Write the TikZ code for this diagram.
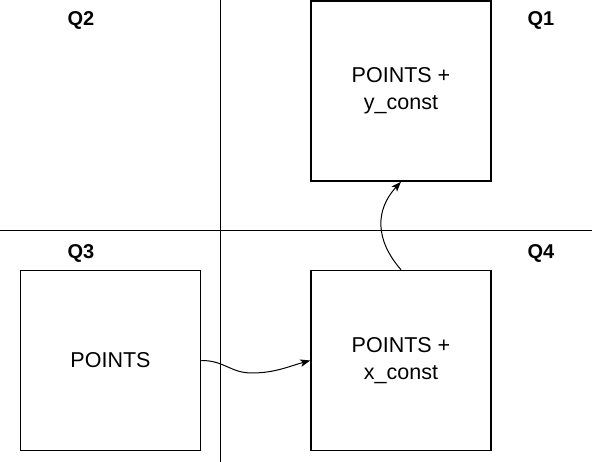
\documentclass[tikz,border=0pt]{standalone}
\usepackage{fontspec}
\setmainfont{Liberation Sans}
\usetikzlibrary{arrows.meta}
\begin{document}
\begin{tikzpicture}[x=1pt,y=-1pt,
  box/.style={draw=black,line width=1.5pt,minimum width=180pt,minimum height=180pt,inner sep=0pt,align=center,font=\fontsize{21.5}{27}\selectfont},
  qlabel/.style={font=\bfseries\fontsize{20}{24}\selectfont,inner sep=0pt},
  axis/.style={draw=black,line width=1pt},
  conn/.style={draw=black,line width=1pt,-{Stealth[length=10pt,width=7.5pt,inset=2.5pt]}}]
\useasboundingbox (0,0) rectangle (592,462);
\coordinate (vtop) at (220.5,0);
\coordinate (vbot) at (220.5,462);
\coordinate (hl) at (0,230.5);
\coordinate (hr) at (592,230.5);
\draw[axis] (vtop) -- (vbot);
\draw[axis] (hl) -- (hr);
\node[box] (b1) at (401,91) {POINTS +\\y\_const};
\node[box] (b3) at (110.5,360.5) {POINTS};
\node[box] (b4) at (401,360.5) {POINTS +\\x\_const};
\node[qlabel] (q2) at (81,20.5) {Q2};
\node[qlabel] (q1) at (541,20.5) {Q1};
\node[qlabel] (q3) at (81,253) {Q3};
\node[qlabel] (q4) at (541,253) {Q4};
\draw[conn] (b3.east) .. controls (225,360.5) and (230,373) .. (252,373) .. controls (275,373) and (290,366) .. (b4.west);
\draw[conn] (b4.north) .. controls (375,240) and (375,210) .. (b1.south);
\end{tikzpicture}
\end{document}
